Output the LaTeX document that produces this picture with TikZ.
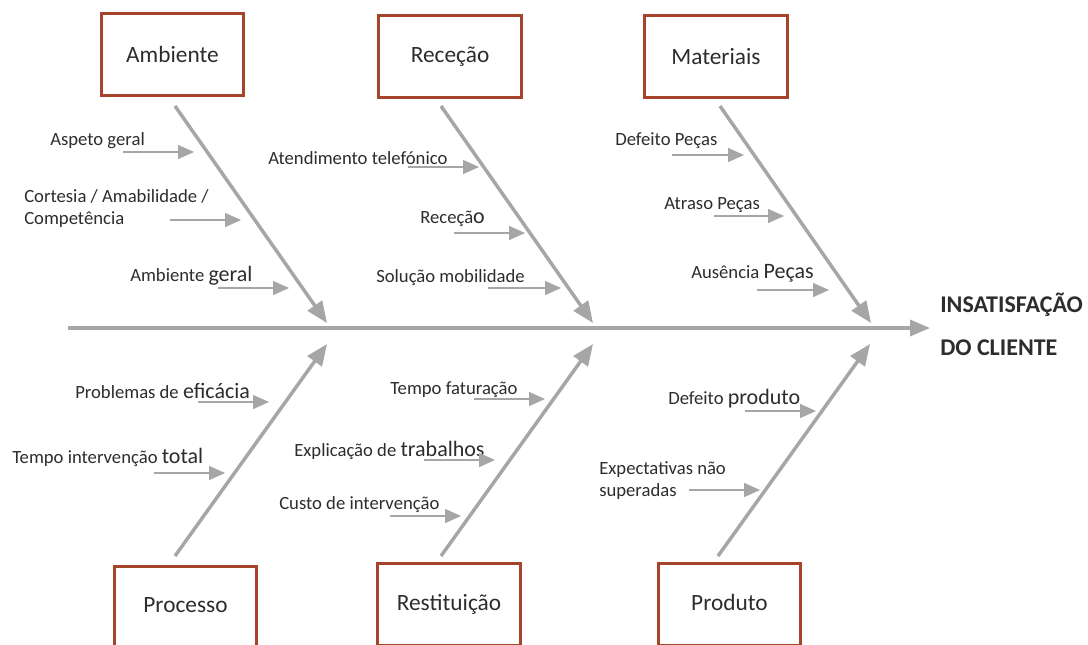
\documentclass[tikz,border=0pt]{standalone}
\usepackage{fontspec}
\setmainfont{Carlito}
\usetikzlibrary{arrows.meta}
\definecolor{boxred}{RGB}{166,68,43}
\definecolor{bonegray}{RGB}{166,166,166}
\definecolor{txtgray}{RGB}{45,45,45}
\newcommand{\bigw}[1]{{\fontsize{16.5}{18}\selectfont #1}}
\tikzset{
  catbox/.style={draw=boxred,line width=2.2pt,fill=white,minimum width=107pt,minimum height=62pt,inner sep=0pt,text=txtgray,font=\fontsize{17.5}{20}\selectfont},
  lbl/.style={anchor=west,inner sep=0pt,text=txtgray,font=\fontsize{14}{16.5}\selectfont,align=left},
  head/.style={anchor=west,inner sep=0pt,text=txtgray,font=\fontsize{18}{20}\selectfont\bfseries},
  spine/.style={draw=bonegray,line width=2.6pt,-{Triangle[length=15pt,width=12pt]}},
  bone/.style={draw=bonegray,line width=2.6pt,-{Triangle[length=16pt,width=13pt]}},
  sub/.style={draw=bonegray,line width=1.1pt,-{Triangle[length=12pt,width=10.5pt]}},
}
\begin{document}
\begin{tikzpicture}[x=0.75pt,y=-0.75pt]
\clip (0,0) rectangle (1088,644);
\fill[white] (0,0) rectangle (1088,644);
% categories
\node[catbox] (amb) at (172.5,54.5) {Ambiente};
\node[catbox] (rec) at (450,56.5) {Receção};
\node[catbox] (mat) at (716,56.5) {Materiais};
\node[catbox] (pro) at (185.5,607.5) {\raisebox{3pt}{Processo}};
\node[catbox] (res) at (449,604.5) {\raisebox{3pt}{Restituição}};
\node[catbox] (prd) at (729.5,604.5) {\raisebox{3pt}{Produto}};
% spine
\coordinate (s0) at (68,328);
\coordinate (s1) at (930,328);
\draw[spine] (s0) -- (s1);
\node[head] (h1) at (940,305) {INSATISFAÇÃO};
\node[head] (h2) at (940,348) {DO CLIENTE};
% bones
\coordinate (amb_a) at (175,106); \coordinate (amb_b) at (327,323);
\coordinate (rec_a) at (441,106); \coordinate (rec_b) at (593,323);
\coordinate (mat_a) at (720,106); \coordinate (mat_b) at (871,323);
\coordinate (pro_a) at (175,556); \coordinate (pro_b) at (327,344);
\coordinate (res_a) at (441,556); \coordinate (res_b) at (593,344);
\coordinate (prd_a) at (718,556); \coordinate (prd_b) at (870,344);
\draw[bone] (amb_a) -- (amb_b);
\draw[bone] (rec_a) -- (rec_b);
\draw[bone] (mat_a) -- (mat_b);
\draw[bone] (pro_a) -- (pro_b);
\draw[bone] (res_a) -- (res_b);
\draw[bone] (prd_a) -- (prd_b);
% Ambiente
\node[lbl] (l1) at (50,141) {Aspeto geral};
\node[lbl] (l2) at (24,209) {Cortesia / Amabilidade /\\Competência};
\node[lbl] (l3) at (130,276) {Ambiente \bigw{geral}};
\coordinate (a1) at (123,152); \coordinate (a1e) at (194,152);
\coordinate (a2) at (170,220); \coordinate (a2e) at (241,220);
\coordinate (a3) at (218,288); \coordinate (a3e) at (289,288);
% Receção
\node[lbl] (l4) at (268,158) {Atendimento telefónico};
\node[lbl] (l5) at (420,219) {Receçã\bigw{o}};
\node[lbl] (l6) at (376,278) {Solução mobilidade};
\coordinate (a4) at (408,167); \coordinate (a4e) at (479,167);
\coordinate (a5) at (454,233); \coordinate (a5e) at (525,233);
\coordinate (a6) at (488,288); \coordinate (a6e) at (561,288);
% Materiais
\node[lbl] (l7) at (615,141) {Defeito Peças};
\node[lbl] (l8) at (664,205) {Atraso Peças};
\node[lbl] (l9) at (691,273) {Ausência \bigw{Peças}};
\coordinate (a7) at (672,155); \coordinate (a7e) at (744,155);
\coordinate (a8) at (714,216); \coordinate (a8e) at (784,216);
\coordinate (a9) at (757,290); \coordinate (a9e) at (829,290);
% Processo
\node[lbl] (l10) at (75,391) {Problemas de \bigw{eficácia}};
\node[lbl] (l11) at (12,457) {Tempo intervenção \bigw{total}};
\coordinate (a10) at (198,402); \coordinate (a10e) at (269,402);
\coordinate (a11) at (154,473); \coordinate (a11e) at (225,473);
% Restituição
\node[lbl] (l12) at (390,390) {Tempo faturação};
\node[lbl] (l13) at (294,450) {Explicação de \bigw{trabalhos}};
\node[lbl] (l14) at (279,505) {Custo de intervenção};
\coordinate (a12) at (474,399); \coordinate (a12e) at (545,399);
\coordinate (a13) at (424,460); \coordinate (a13e) at (495,460);
\coordinate (a14) at (390,516); \coordinate (a14e) at (461,516);
% Produto
\node[lbl] (l15) at (668,399) {Defeito \bigw{produto}};
\node[lbl] (l16) at (599,481) {Expectativas não\\superadas};
\coordinate (a15) at (745,411); \coordinate (a15e) at (816,411);
\coordinate (a16) at (689,490); \coordinate (a16e) at (760,490);
\foreach \i in {1,...,16}
  \draw[sub] (a\i) -- (a\i e);
\end{tikzpicture}
\end{document}
